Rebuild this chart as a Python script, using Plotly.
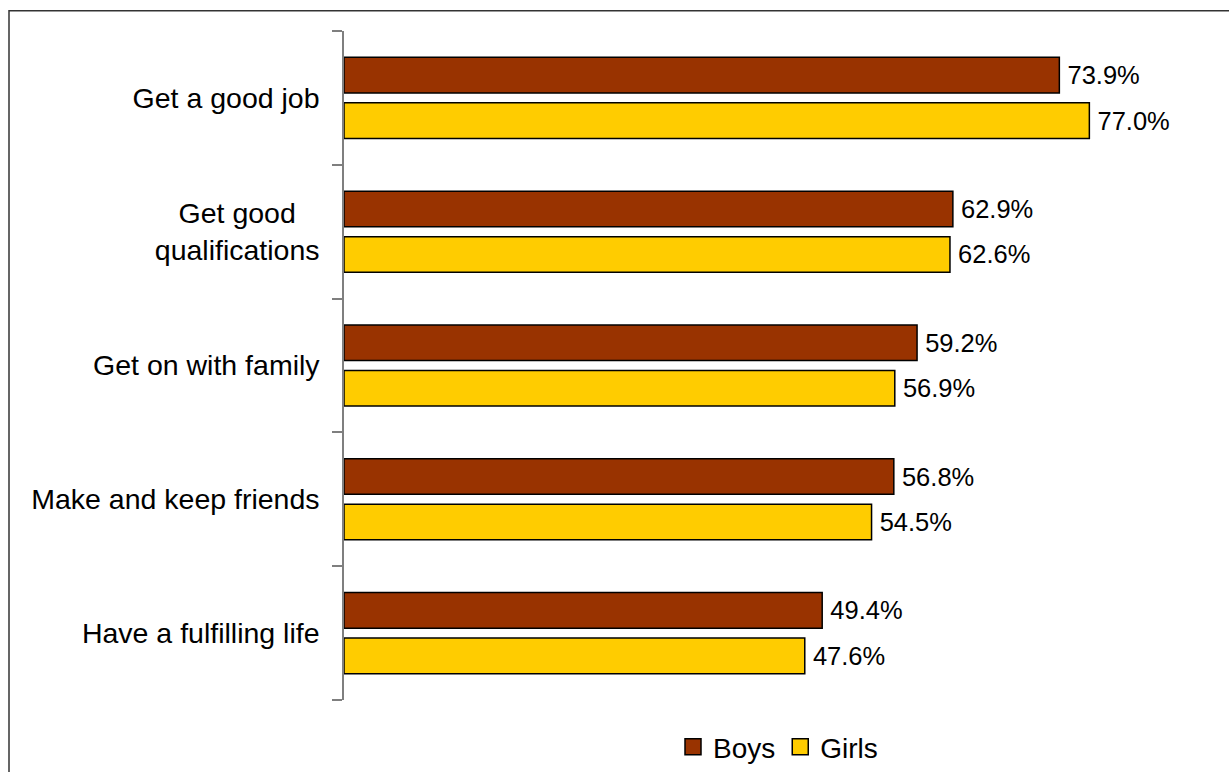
import plotly.graph_objects as go

categories = ["Get a good job", "Get good<br>qualifications", "Get on with family",
              "Make and keep friends", "Have a fulfilling life"]
tick_labels = ["Get a good job", "Get good\u00a0\u00a0\u00a0<br>qualifications", "Get on with family",
               "Make and keep friends", "Have a fulfilling life"]
boys = [73.9, 62.9, 59.2, 56.8, 49.4]
girls = [77.0, 62.6, 56.9, 54.5, 47.6]
series_names = ["Boys", "Girls"]
series_colors = ["#993300", "#FFCC00"]

W, H = 1229, 772
ML, MR, MT, MB = 344, 0, 31, 65
PW, PH = W - ML - MR, H - MT - MB
FONT = "Liberation Sans, Arial, Helvetica, sans-serif"

fig = go.Figure()
for name, vals, col in zip(series_names, [boys, girls], series_colors):
    fig.add_trace(go.Bar(
        y=categories, x=vals, orientation="h", name=name,
        marker=dict(color=col, line=dict(color="#000000", width=1.5)),
        text=["\u2009" + f"{v:.1f}%" for v in vals],
        textposition="outside", cliponaxis=False,
        textfont=dict(family=FONT, size=25.5, color="#000000"),
        showlegend=False, hoverinfo="skip",
    ))
    fig.add_trace(go.Scatter(
        x=[None], y=[None], mode="markers", name=name,
        marker=dict(symbol="square", size=17, color=col, line=dict(color="#000000", width=1.5)),
        showlegend=True,
    ))

fig.update_layout(
    width=W, height=H,
    margin=dict(l=ML, r=MR, t=MT, b=MB, pad=0),
    paper_bgcolor="white", plot_bgcolor="white",
    barmode="group", bargap=0.32, bargroupgap=0.217,
    font=dict(family=FONT, color="#000000"),
    xaxis=dict(range=[0, PW / 9.68], visible=False, showgrid=False, zeroline=False),
    yaxis=dict(
        type="category", categoryorder="array", categoryarray=categories,
        autorange="reversed",
        tickmode="array", tickvals=categories, ticktext=tick_labels,
        tickson="boundaries", ticks="outside", ticklen=10, tickwidth=1.5,
        tickcolor="#7f7f7f", showline=True, linecolor="#7f7f7f", linewidth=1.5,
        showgrid=False, zeroline=False,
        tickfont=dict(family=FONT, size=28.5, color="#000000"),
        ticklabelstandoff=17,
    ),
    legend=dict(orientation="h", x=(778 - ML) / PW, xanchor="center",
                y=-(755 - MT - PH) / PH, yanchor="middle",
                font=dict(family=FONT, size=28, color="#000000"),
                itemwidth=30, bgcolor="rgba(0,0,0,0)"),
)

# outer frame (pixel coords converted to paper coords)
def px_x(p):
    return (p - ML) / PW

def px_y(p):
    return 1 - (p - MT) / PH

fig.add_shape(type="rect", xref="paper", yref="paper",
              x0=px_x(9), x1=px_x(W + 20), y0=px_y(10.5), y1=px_y(H + 20),
              line=dict(color="#333333", width=1.5), fillcolor="rgba(0,0,0,0)", layer="above")

fig.write_html("out.html")
